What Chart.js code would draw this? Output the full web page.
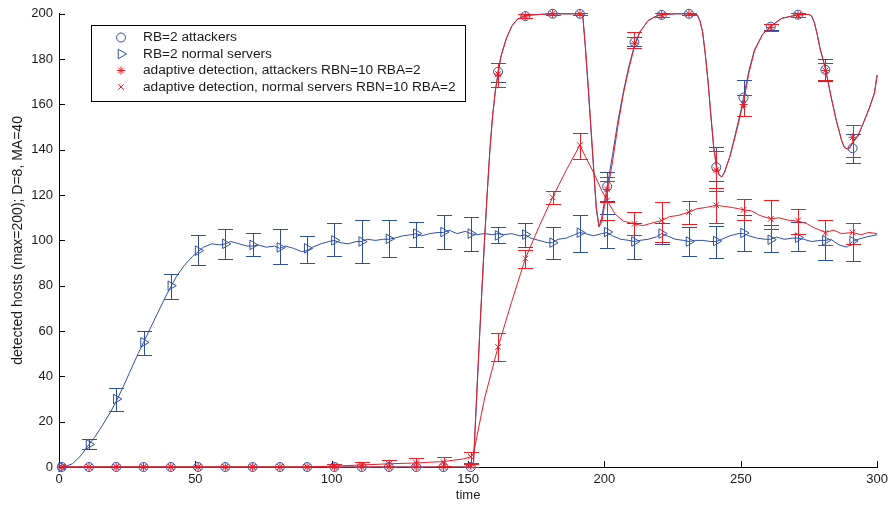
<!DOCTYPE html>
<html>
<head>
<meta charset="utf-8">
<script src="https://cdn.jsdelivr.net/npm/chart.js@4.4.1/dist/chart.umd.min.js"></script>
<style>
  html, body { margin: 0; padding: 0; background: #fff; }
  #wrap { width: 893px; height: 506px; position: relative; }
</style>
</head>
<body>
<div id="wrap"><canvas id="plot"></canvas></div>
<script>
// marker positions (every 10th sample, 1-based)
const markX = [1, 11, 21, 31, 41, 51, 61, 71, 81, 91, 101, 111, 121, 131, 141, 151, 161, 171, 181, 191, 201, 211, 221, 231, 241, 251, 261, 271, 281, 291];

// RB=2 attackers (mean, lower, upper)
const atkRB   = [0, 0, 0, 0, 0, 0, 0, 0, 0, 0, 0, 0, 0, 0, 0, 0, 174.4, 199, 200, 200, 123.8, 187.5, 199.5, 200, 132.3, 163, 194.3, 199.6, 175.3, 140.7];
const atkRBLo = [0, 0, 0, 0, 0, 0, 0, 0, 0, 0, 0, 0, 0, 0, 0, 0, 169.7, 198, 199.5, 199.5, 117.6, 185.9, 198.5, 199.5, 126.4, 155, 193, 198.8, 170.5, 134];
const atkRBHi = [0, 0, 0, 0, 0, 0, 0, 0, 0, 0, 0, 0, 0, 0, 0, 0, 178.5, 200, 200.5, 200.5, 130, 189.9, 200.5, 200.5, 141.4, 171, 195.5, 200.4, 180, 147];

// RB=2 normal servers
const srvRB   = [0, 10, 30, 55, 80, 95.5, 98.5, 98, 96.9, 96.5, 100, 99.5, 100.7, 103, 103.7, 103, 102.2, 102.6, 99, 103.4, 103.7, 99.5, 103, 99.5, 99.7, 103.3, 100.3, 101.2, 100, 99.7];
const srvRBLo = [0, 7.8, 24.7, 49.6, 74, 89, 91.6, 93, 89.4, 90, 93, 90, 92.6, 97, 96, 95.5, 98.8, 97, 91.7, 95, 96.6, 91.6, 98.6, 93, 92.4, 95.3, 94.7, 95.4, 91.5, 90.9];
const srvRBHi = [0, 12.2, 34.7, 60, 85.3, 102.5, 105, 103.3, 105, 102, 107.6, 109, 108.8, 108, 111, 110.5, 106, 107.6, 106, 111, 111.5, 107.5, 107.6, 106, 106.3, 111, 106.6, 108, 108.8, 107.6];

// adaptive detection, attackers
const atkAD   = [0, 0, 0, 0, 0, 0, 0, 0, 0, 0, 0, 0, 0, 0, 0, 0.5, 173.4, 199, 200, 200, 122.5, 187, 199.5, 200, 131, 160, 194, 199.5, 175, 145.5];
const atkADLo = [0, 0, 0, 0, 0, 0, 0, 0, 0, 0, 0, 0, 0, 0, 0, 0, 167.8, 198, 199.5, 199.5, 117, 185, 198.5, 199.5, 122, 155, 192.5, 198.8, 171, 137];
const atkADHi = [0, 0, 0, 0, 0, 0, 0, 0, 0, 0, 0, 0, 0, 0, 0, 1.5, 178.5, 200, 200.5, 200.5, 128, 192, 200.5, 200.5, 139.6, 164, 195.5, 200.3, 178.5, 151];

// adaptive detection, normal servers
const srvAD   = [0, 0, 0, 0, 0, 0, 0, 0, 0, 0, 0.4, 0.9, 1.4, 1.8, 2.2, 4.5, 53, 92, 119, 142, 117.6, 107.3, 108.8, 112.5, 115.5, 113.5, 109.5, 108.8, 103.3, 103.5];
const srvADLo = [0, 0, 0, 0, 0, 0, 0, 0, 0, 0, 0, 0, 0, 0, 0.5, 1.6, 46.7, 87.8, 116, 136, 109, 102.2, 99.3, 107.3, 107.6, 108.8, 105, 103, 97.8, 98.5];
const srvADHi = [0, 0, 0, 0, 0, 0, 0, 0, 0, 0, 1.2, 2.3, 3, 3.8, 4.3, 6.7, 59.3, 95.6, 122, 147.3, 126, 112.5, 116.9, 117.3, 123.3, 118.3, 118, 114, 108.8, 107.6];

// full traces
const atkRBLineX = [1, 151, 152, 153, 154, 155, 156, 157, 158, 159, 160, 161, 162, 164, 166, 168, 171, 176, 181, 191, 192, 193, 194, 195, 196, 197, 198, 199, 200, 201, 203, 205, 207, 209, 211, 213, 216, 219, 221, 226, 231, 234, 235, 236, 237, 238, 239, 240, 241, 242, 243, 244, 246, 248, 250, 251, 253, 255, 258, 261, 265, 271, 275, 276, 277, 278, 279, 281, 283, 285, 287, 288, 289, 290, 291, 293, 295, 297, 299, 300];
const atkRBLineY = [0, 0, 2, 27, 52, 76, 99, 120, 140, 155, 166, 174, 181, 189, 194.5, 197.5, 199.3, 199.7, 200, 200, 200, 185, 168, 150, 132, 114, 106, 110, 117, 123.5, 138, 153, 166, 177, 186, 192, 197, 199, 199.6, 200, 200, 199.5, 197, 192, 182, 170, 155, 142, 133, 129, 128, 130, 137, 147, 157, 163, 175, 184, 191, 194.5, 198, 199.6, 199.7, 199, 196, 191, 185, 176, 164, 153, 144, 141, 140.4, 140.8, 143, 146, 152, 158, 165, 173, 179];

const atkADLineX = [1, 151, 152, 153, 154, 155, 156, 157, 158, 159, 160, 161, 162, 164, 166, 168, 171, 176, 181, 191, 192, 193, 194, 195, 196, 197, 198, 199, 200, 201, 203, 205, 207, 209, 211, 213, 216, 219, 221, 226, 231, 234, 235, 236, 237, 238, 239, 240, 241, 242, 243, 244, 246, 248, 250, 251, 253, 255, 258, 261, 265, 271, 275, 276, 277, 278, 279, 281, 283, 285, 287, 288, 289, 290, 291, 293, 295, 297, 299, 300];
const atkADLineY = [0, 0, 2, 28, 53, 77, 100, 121, 140, 155, 166, 173.5, 181, 189, 194.5, 197.5, 199.3, 199.7, 200, 200, 200, 186, 169, 151, 133, 115, 106, 108, 115, 121, 135, 151, 165, 176, 185.5, 192, 197, 199, 199.6, 200, 200, 199.5, 197, 192, 182, 170, 156, 142, 133, 129, 128, 130, 137, 146, 156, 161, 174, 183.5, 191, 194.5, 198, 199.6, 199.7, 199, 196, 191, 185, 176, 164, 153, 144, 141, 140.4, 141, 143.5, 146.5, 152, 158, 165, 173, 179];

const srvRBLineX = [1, 3, 5, 8, 11, 13, 16, 19, 21, 23, 26, 29, 31, 33, 36, 39, 41, 43, 46, 49, 51, 53, 56, 59, 61, 63, 66, 69, 71, 73, 76, 79, 81, 83, 86, 89, 91, 93, 96, 99, 101, 103, 106, 109, 111, 113, 116, 119, 121, 123, 126, 129, 131, 133, 136, 139, 141, 143, 146, 149, 151, 153, 156, 159, 161, 163, 166, 169, 171, 173, 176, 179, 181, 183, 186, 189, 191, 193, 196, 199, 201, 203, 206, 209, 211, 213, 216, 219, 221, 223, 226, 229, 231, 233, 236, 239, 241, 243, 246, 249, 251, 253, 256, 259, 261, 263, 266, 269, 271, 273, 276, 279, 281, 283, 286, 289, 291, 293, 296, 298, 300];
const srvRBLineY = [0, 0.5, 1.5, 5, 10, 13, 18.5, 24.5, 29, 34, 42, 50, 55, 60, 67.5, 75, 79.5, 84, 89, 93, 95, 97, 98.5, 98, 98.5, 99.5, 98.5, 97.5, 97.5, 98, 97, 97.5, 96.5, 97.5, 96.5, 95, 95.5, 97, 98.5, 99.5, 100, 99, 98.5, 99.5, 99.5, 100.5, 100, 100.5, 100.5, 101, 102, 102.5, 103, 102, 103, 103.5, 103.5, 104.5, 103, 104, 103, 102.5, 103, 102.5, 103, 102.5, 103, 102, 102.5, 101, 100, 99, 99, 100.5, 101, 102.5, 103.5, 103, 102, 103, 103.5, 102, 100.5, 100, 99.5, 100, 100.5, 101.5, 103, 102, 100.5, 100, 99.5, 100, 100, 99.5, 99.5, 100.5, 102, 103, 103, 102, 101, 100.5, 100.5, 101.5, 100.5, 101, 101, 100.5, 99.5, 100, 100, 100.5, 98, 97, 99.5, 100.5, 101.5, 102, 102.5];

const srvADLineX = [1, 91, 101, 111, 121, 131, 141, 148, 151, 152, 156, 161, 166, 171, 176, 181, 186, 191, 193, 196, 199, 201, 204, 207, 211, 214, 217, 221, 224, 227, 231, 234, 237, 241, 244, 247, 251, 254, 257, 261, 264, 267, 271, 274, 277, 281, 284, 287, 291, 294, 297, 300];
const srvADLineY = [0, 0, 0.4, 0.9, 1.4, 1.8, 2.4, 3.5, 4.5, 6, 30, 53, 73, 92, 106, 119, 131, 142, 137, 130, 122, 117.6, 111.5, 108.5, 107.3, 106.5, 107.5, 108.8, 110.5, 111, 112.5, 114, 114.5, 115.5, 115, 114.5, 113.5, 113, 111, 109.5, 110, 109, 108.5, 107.5, 105.5, 103.5, 104.5, 103, 103.5, 102.5, 103.5, 103];

const blue = '#2f4ea8';
const red = '#ee1c24';
const FONT = "'Liberation Sans', Arial, Helvetica, sans-serif";

const toPts = (xs, ys) => xs.map((x, i) => ({ x: x, y: ys[i] }));

const lineSet = (label, xs, ys, color) => ({
    label: label,
    data: toPts(xs, ys),
    showLine: true,
    borderColor: color,
    borderWidth: 1,
    pointRadius: 0,
    tension: 0,
    clip: false
});

const markSet = (label, ys, lo, hi, color, style, radius, rotation) => ({
    label: label,
    data: toPts(markX, ys),
    lo: lo,
    hi: hi,
    showLine: false,
    borderColor: color,
    backgroundColor: 'rgba(0,0,0,0)',
    borderWidth: 1,
    pointStyle: style,
    pointRadius: radius,
    rotation: rotation || 0,
    clip: false
});

// error bars drawn right after the marker set that owns them
const errorBars = {
    id: 'errorBars',
    afterDatasetDraw(chart, args) {
        const ds = chart.data.datasets[args.index];
        if (!ds.lo) return;
        const xs = chart.scales.x, ys = chart.scales.y, ctx = chart.ctx;
        const cap = 7.5;
        ctx.save();
        ctx.strokeStyle = ds.borderColor;
        ctx.lineWidth = 1;
        ds.data.forEach((p, i) => {
            const y1 = Math.round(ys.getPixelForValue(ds.lo[i])) + 0.5;
            const y2 = Math.round(ys.getPixelForValue(ds.hi[i])) + 0.5;
            if (Math.abs(y1 - y2) < 1) return;
            const px = Math.round(xs.getPixelForValue(p.x)) + 0.5;
            ctx.beginPath();
            ctx.moveTo(px, y1); ctx.lineTo(px, y2);
            ctx.moveTo(px - cap, y1); ctx.lineTo(px + cap, y1);
            ctx.moveTo(px - cap, y2); ctx.lineTo(px + cap, y2);
            ctx.stroke();
        });
        ctx.restore();
    }
};

// matlab style ticks pointing into the plot
const inwardTicks = {
    id: 'inwardTicks',
    beforeDatasetsDraw(chart) {
        const { ctx, chartArea: a, scales: { x, y } } = chart;
        ctx.save();
        ctx.strokeStyle = '#000';
        ctx.lineWidth = 1;
        ctx.beginPath();
        x.ticks.forEach(t => {
            const px = Math.round(x.getPixelForValue(t.value)) + 0.5;
            ctx.moveTo(px, a.bottom); ctx.lineTo(px, a.bottom - 6);
        });
        y.ticks.forEach(t => {
            const py = Math.round(y.getPixelForValue(t.value)) + 0.5;
            ctx.moveTo(a.left, py); ctx.lineTo(a.left + 6, py);
        });
        ctx.stroke();
        ctx.restore();
    }
};

const legendRows = [
    { text: 'RB=2 attackers', color: blue, style: 'circle', radius: 4.5, rotation: 0 },
    { text: 'RB=2 normal servers', color: blue, style: 'triangle', radius: 5.5, rotation: 90 },
    { text: 'adaptive detection, attackers RBN=10 RBA=2', color: red, style: 'star', radius: 4, rotation: 0 },
    { text: 'adaptive detection, normal servers RBN=10 RBA=2', color: red, style: 'crossRot', radius: 4, rotation: 0 }
];

const boxLegend = {
    id: 'boxLegend',
    afterDatasetsDraw(chart) {
        const ctx = chart.ctx;
        ctx.save();
        ctx.fillStyle = '#fff';
        ctx.fillRect(91.5, 25.5, 374, 76);
        ctx.strokeStyle = '#000';
        ctx.lineWidth = 1;
        ctx.strokeRect(91.5, 25.5, 374, 76);
        ctx.font = '13.7px ' + FONT;
        ctx.textBaseline = 'middle';
        legendRows.forEach((r, i) => {
            const y = 37.5 + i * 16.5;
            ctx.strokeStyle = r.color;
            ctx.fillStyle = 'rgba(0,0,0,0)';
            ctx.lineWidth = 1;
            Chart.helpers.drawPoint(ctx, { pointStyle: r.style, radius: r.radius, rotation: r.rotation, borderWidth: 1 }, 121, y);
            ctx.fillStyle = '#1a1a1a';
            ctx.fillText(r.text, 143, y);
        });
        ctx.restore();
    }
};

Chart.defaults.font.family = FONT;
Chart.defaults.color = '#1a1a1a';

// datasets draw last-to-first, so the topmost set goes first
new Chart(document.getElementById('plot'), {
    type: 'scatter',
    data: {
        datasets: [
            markSet('adaptive detection, normal servers RBN=10 RBA=2', srvAD, srvADLo, srvADHi, red, 'crossRot', 4),
            lineSet('srvAD trace', srvADLineX, srvADLineY, red),
            markSet('adaptive detection, attackers RBN=10 RBA=2', atkAD, atkADLo, atkADHi, red, 'star', 4),
            lineSet('atkAD trace', atkADLineX, atkADLineY, red),
            markSet('RB=2 normal servers', srvRB, srvRBLo, srvRBHi, blue, 'triangle', 5.5, 90),
            lineSet('srvRB trace', srvRBLineX, srvRBLineY, blue),
            markSet('RB=2 attackers', atkRB, atkRBLo, atkRBHi, blue, 'circle', 4.5),
            lineSet('atkRB trace', atkRBLineX, atkRBLineY, blue)
        ]
    },
    options: {
        responsive: true,
        maintainAspectRatio: false,
        animation: false,
        layout: { padding: { top: 13, right: 15, left: 0, bottom: 0 } },
        plugins: {
            legend: { display: false },
            tooltip: { enabled: false }
        },
        scales: {
            x: {
                type: 'linear',
                min: 0,
                max: 300,
                afterFit: (s) => { s.height = 39; },
                ticks: { stepSize: 50, padding: 5, font: { size: 13 } },
                grid: { drawOnChartArea: false, drawTicks: false },
                border: { display: true, color: '#000', width: 1 },
                title: { display: true, text: 'time', font: { size: 13 }, padding: { top: 0, bottom: 3 } }
            },
            y: {
                type: 'linear',
                min: 0,
                max: 200,
                afterFit: (s) => { s.width = 59; },
                ticks: { stepSize: 20, padding: 6, font: { size: 13 } },
                grid: { drawOnChartArea: false, drawTicks: false },
                border: { display: true, color: '#000', width: 1 },
                title: { display: true, text: 'detected hosts (max=200); D=8, MA=40', font: { size: 14 }, padding: { top: 10, bottom: 0 } }
            }
        }
    },
    plugins: [inwardTicks, errorBars, boxLegend]
});
</script>
</body>
</html>
